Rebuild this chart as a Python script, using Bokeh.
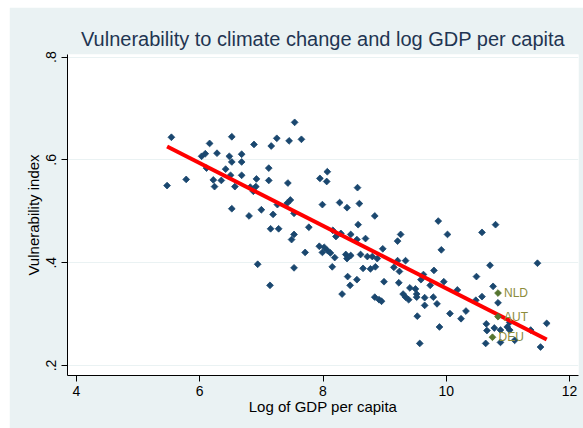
from bokeh.plotting import figure
from bokeh.models import FixedTicker, CustomJSTickFormatter, ColumnDataSource, Range1d
from bokeh.embed import file_html
from bokeh.resources import INLINE

# ---- data ----
log_gdp = [
    5.54, 5.47, 5.78, 6.16, 6.52, 6.09, 6.03, 6.28, 6.48, 6.52,
    6.68, 6.68, 6.88, 7.16, 7.25, 7.45, 7.54, 7.65, 6.11, 6.42,
    6.50, 6.22, 6.24, 6.35, 6.57, 6.68, 6.82, 6.87, 6.91, 6.92,
    7.12, 7.12, 7.43, 7.47, 7.42, 7.26, 6.52, 6.80, 7.00, 7.19,
    7.53, 7.95, 8.06, 8.07, 8.56, 7.99, 8.27, 8.39, 8.59, 8.84,
    8.57, 7.15, 7.28, 7.53, 7.49, 7.77, 7.71, 6.94, 7.53, 7.14,
    9.87, 10.02, 9.92, 8.16, 8.21, 8.29, 8.45, 8.55, 8.69, 9.26,
    9.21, 7.94, 8.02, 8.07, 7.99, 8.12, 8.19, 8.37, 8.39, 8.45,
    8.61, 8.72, 8.80, 8.88, 8.97, 8.15, 8.65, 8.77, 8.85, 9.21,
    9.34, 9.15, 9.80, 8.40, 8.55, 8.44, 8.31, 8.99, 8.84, 8.91,
    8.95, 9.24, 9.23, 9.41, 9.50, 9.52, 9.30, 9.34, 9.39, 9.52,
    9.59, 9.65, 9.65, 9.53, 9.57, 10.58, 10.80, 10.71, 11.48, 9.96,
    10.18, 10.49, 10.58, 10.48, 10.76, 10.84, 10.32, 10.24, 10.06, 9.89,
    10.65, 10.66, 10.78, 10.88, 10.99, 11.03, 11.03, 10.64, 10.88, 11.11,
    11.37, 11.63, 11.53, 9.63, 9.74, 9.79, 9.85,
]
vulnerability = [
    0.644, 0.550, 0.562, 0.632, 0.645, 0.612, 0.607, 0.613, 0.607, 0.596,
    0.611, 0.596, 0.630, 0.627, 0.642, 0.637, 0.673, 0.640, 0.584, 0.582,
    0.570, 0.561, 0.548, 0.560, 0.548, 0.570, 0.547, 0.539, 0.548, 0.563,
    0.584, 0.560, 0.555, 0.522, 0.516, 0.513, 0.505, 0.491, 0.503, 0.494,
    0.496, 0.564, 0.558, 0.577, 0.546, 0.513, 0.517, 0.507, 0.515, 0.491,
    0.474, 0.466, 0.466, 0.455, 0.445, 0.469, 0.420, 0.397, 0.390, 0.356,
    0.481, 0.455, 0.425, 0.463, 0.451, 0.457, 0.455, 0.445, 0.447, 0.455,
    0.442, 0.432, 0.430, 0.424, 0.420, 0.419, 0.410, 0.416, 0.408, 0.414,
    0.416, 0.412, 0.412, 0.408, 0.427, 0.392, 0.389, 0.388, 0.392, 0.404,
    0.404, 0.391, 0.385, 0.373, 0.367, 0.356, 0.339, 0.363, 0.333, 0.328,
    0.325, 0.383, 0.361, 0.351, 0.349, 0.339, 0.339, 0.333, 0.328, 0.333,
    0.367, 0.332, 0.317, 0.296, 0.243, 0.459, 0.474, 0.395, 0.399, 0.363,
    0.347, 0.373, 0.334, 0.327, 0.354, 0.322, 0.306, 0.291, 0.301, 0.275,
    0.281, 0.268, 0.273, 0.269, 0.275, 0.284, 0.269, 0.243, 0.245, 0.249,
    0.269, 0.282, 0.236, 0.377, 0.356, 0.333, 0.320,
]
highlight_codes = ["NLD", "AUT", "DEU"]
highlight_log_gdp = [10.84, 10.84, 10.75]
highlight_vulnerability = [0.341, 0.295, 0.255]

fit_intercept = 0.959
fit_slope = -0.0609

x_ticks = [4, 6, 8, 10, 12]
y_ticks = [0.2, 0.4, 0.6, 0.8]

title_text = "Vulnerability to climate change and log GDP per capita"
x_label = "Log of GDP per capita"
y_label = "Vulnerability index"

# ---- styles ----
FONT = "Liberation Sans"
BG = "#eaf2f3"
NAVY = "#1a476f"
GREEN = "#55752f"
LABEL_GREEN = "#8c8c3c"

p = figure(
    width=574, height=421,
    output_backend="svg", toolbar_location=None,
    x_range=Range1d(3.854, 12.146), y_range=Range1d(0.1806, 0.805),
    min_border_left=58, min_border_right=5, min_border_top=47, min_border_bottom=53,
)
p.margin = (7, 0, 0, 9)
p.background_fill_color = "white"
p.border_fill_color = BG
p.outline_line_color = None

p.title.text = title_text
p.title.align = "center"
p.title.text_font = FONT
p.title.text_font_size = "20px"
p.title.text_font_style = "normal"
p.title.text_color = "#1f3552"
p.title.standoff = 10

p.xgrid.visible = False
p.ygrid.grid_line_color = BG
p.ygrid.grid_line_width = 1
p.ygrid.ticker = FixedTicker(ticks=y_ticks)

for ax in (p.xaxis[0], p.yaxis[0]):
    ax.axis_line_color = "black"
    ax.axis_line_width = 1
    ax.major_tick_line_color = "black"
    ax.major_tick_out = 6
    ax.major_tick_in = 0
    ax.minor_tick_line_color = None
    ax.major_label_text_font = FONT
    ax.major_label_text_font_size = "14px"
    ax.major_label_text_color = "black"
    ax.axis_label_text_font = FONT
    ax.axis_label_text_font_size = "15px"
    ax.axis_label_text_font_style = "normal"
    ax.axis_label_text_color = "black"

p.xaxis.ticker = FixedTicker(ticks=x_ticks)
p.xaxis.axis_label = x_label
p.xaxis.major_label_standoff = 4
p.xaxis.axis_label_standoff = -1

p.yaxis.ticker = FixedTicker(ticks=y_ticks)
p.yaxis.formatter = CustomJSTickFormatter(code="return tick.toFixed(1).replace(/^0/, '');")
p.yaxis.major_label_orientation = "vertical"
p.yaxis.axis_label = y_label
p.yaxis.major_label_standoff = 5
p.yaxis.axis_label_standoff = 2

src = ColumnDataSource(dict(x=log_gdp, y=vulnerability))
p.scatter("x", "y", source=src, marker="square", angle=0.7854, size=4.8,
          fill_color=NAVY, line_color=NAVY, line_width=0.8)

fx = [min(log_gdp), max(log_gdp)]
fy = [fit_intercept + fit_slope * v for v in fx]
p.line(fx, fy, line_color="#ff0000", line_width=4)

hsrc = ColumnDataSource(dict(x=highlight_log_gdp, y=highlight_vulnerability, t=highlight_codes))
p.scatter("x", "y", source=hsrc, marker="square", angle=0.7854, size=4.8,
          fill_color=GREEN, line_color=GREEN, line_width=0.8)
p.text("x", "y", text="t", source=hsrc, x_offset=6, text_baseline="middle",
       text_font_size="12px", text_color=LABEL_GREEN, text_font={"value": FONT})

open("out.html", "w").write(file_html(p, INLINE))
